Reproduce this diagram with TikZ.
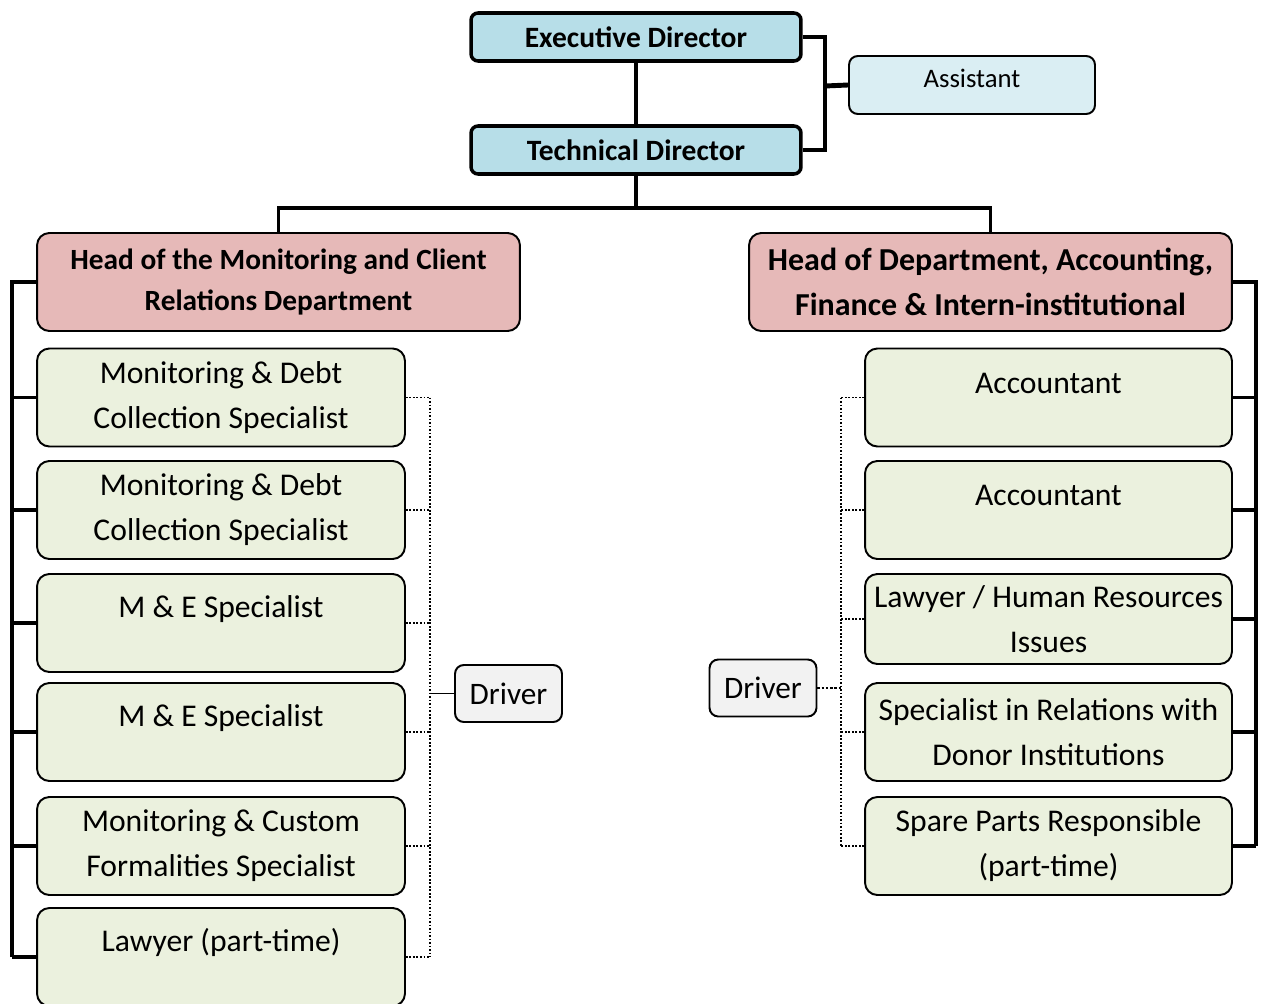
\documentclass[tikz,border=0pt]{standalone}
\usepackage{fontspec}
\setmainfont{Carlito}

\definecolor{dirblue}{HTML}{B7DEE8}
\definecolor{asstblue}{HTML}{DAEEF3}
\definecolor{headrose}{HTML}{E6B9B8}
\definecolor{staffgreen}{HTML}{EBF1DE}
\definecolor{drivergrey}{HTML}{F2F2F2}

\newcommand{\lift}[2][8pt]{\raisebox{#1}[\height][\depth]{#2}}

\begin{document}
\begin{tikzpicture}[x=0.02cm, y=-0.02cm,
  dirbox/.style={draw, line width=2pt, rounded corners=4pt, fill=dirblue,
    minimum width=6.6cm, minimum height=0.96cm, font=\bfseries\fontsize{16.8}{19}\selectfont},
  headbox/.style={draw, line width=1.1pt, rounded corners=7pt, fill=headrose,
    minimum width=9.66cm, minimum height=1.96cm, align=center},
  staffbox/.style={draw, line width=1.1pt, rounded corners=7pt, fill=staffgreen,
    minimum width=7.36cm, minimum height=1.96cm, align=center,
    font=\fontsize{18}{25.6}\selectfont},
  driverbox/.style={draw, line width=1.1pt, rounded corners=5pt, fill=drivergrey,
    minimum width=2.14cm, minimum height=1.14cm, font=\fontsize{17.8}{20}\selectfont},
  link/.style={line width=2pt},
  dots/.style={densely dotted, line width=1pt}]

\useasboundingbox (0,0) rectangle (1262,1004);

% top of the chart
\node[dirbox] (exec) at (636,37) {Executive Director};
\node[dirbox] (tech) at (636,150) {Technical Director};
\node[draw, line width=1.1pt, rounded corners=5pt, fill=asstblue, minimum width=4.92cm,
  minimum height=1.16cm, font=\fontsize{15.2}{18}\selectfont] (asst) at (972,85) {\lift[4pt]{Assistant}};

\coordinate (asstjoin) at (825,86);
\coordinate (techjoin) at (636,208);

\draw[link] (exec) -- (tech);
\draw[link] (exec.east) -| (asstjoin) |- (tech.east);
\draw[line width=2.8pt] (asstjoin) -- (asst.west);

% the two departments
\node[headbox, font=\bfseries\fontsize{16.7}{23.3}\selectfont] (headL) at (278.5,282)
  {Head of the Monitoring and Client\\Relations Department};
\node[headbox, font=\bfseries\fontsize{18.2}{25.6}\selectfont] (headR) at (990.5,282)
  {Head of Department, Accounting,\\Finance \& Intern-institutional};

\draw[link] (tech) -- (techjoin);
\draw[link] (headL.north) |- (techjoin) -| (headR.north);

% left column
\coordinate (spineL) at (12,0);
\coordinate (dotL) at (430,0);
\foreach \n/\y/\t in {1/397.5/{Monitoring \& Debt\\Collection Specialist},
                      2/510/{Monitoring \& Debt\\Collection Specialist},
                      3/623/{\lift{M \& E Specialist}},
                      4/732/{\lift{M \& E Specialist}},
                      5/846/{Monitoring \& Custom\\Formalities Specialist},
                      6/957/{\lift{Lawyer (part-time)}}}
  {\node[staffbox] (left\n) at (221,\y) {\t};
   \draw[link] (left\n.west) -- (left\n.west -| spineL);
   \draw[dots] (left\n.east) -- (left\n.east -| dotL);}

\draw[link] (headL.west) -| (spineL |- left6.west);
\draw[dots] (dotL |- left1.east) -- (dotL |- left6.east);

\node[driverbox] (driverL) at (508.5,693.5) {Driver};
\draw[line width=1.1pt] (driverL.west) -- (driverL.west -| dotL);

% right column
\coordinate (spineR) at (1256,0);
\coordinate (dotR) at (841,0);
\foreach \n/\y/\h/\t in {1/397.5/1.96/{\lift{Accountant}},
                         2/510/1.96/{\lift{Accountant}},
                         3/619/1.8/{Lawyer / Human Resources\\Issues},
                         4/732/1.96/{Specialist in Relations with\\Donor Institutions},
                         5/846/1.96/{Spare Parts Responsible\\(part-time)}}
  {\node[staffbox, minimum width=7.34cm, minimum height=\h cm] (right\n) at (1048.5,\y) {\t};
   \draw[link] (right\n.east) -- (right\n.east -| spineR);
   \draw[dots] (right\n.west) -- (right\n.west -| dotR);}

\draw[link] (headR.east) -| (spineR |- right5.east);
\draw[dots] (dotR |- right1.west) -- (dotR |- right5.west);

\node[driverbox] (driverR) at (763,688) {Driver};
\draw[dots, line width=1.4pt] (driverR.east) -- (driverR.east -| dotR);

\end{tikzpicture}
\end{document}
